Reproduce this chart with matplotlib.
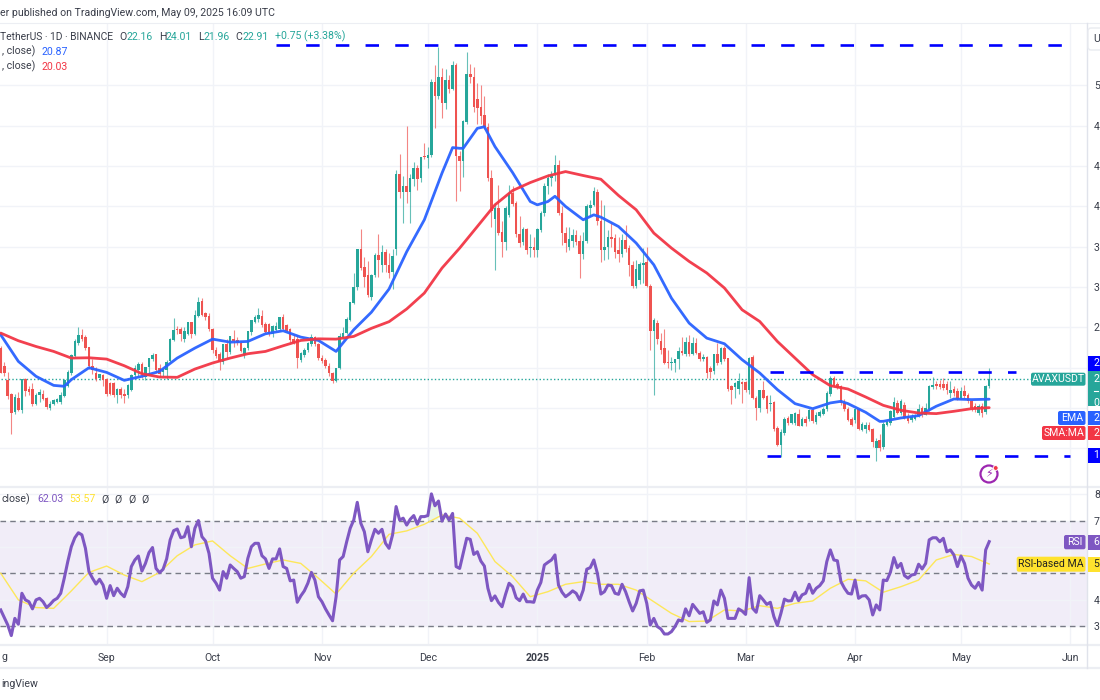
# -*- coding:utf-8 -*-
import matplotlib
matplotlib.use('Agg')
import matplotlib.pyplot as plt
from matplotlib.patches import Circle, FancyBboxPatch, Rectangle
import numpy as np

plt.rcParams['font.family'] = ['Roboto', 'DejaVu Sans']

# Daily candles, first one is Aug 2 2024, last one May 9 2025
opens = [25.9,24.2,22.8,21.4,19.6,21.0,19.8,22.9,21.9,21.9,
         20.4,21.3,21.4,21.0,20.0,20.4,20.6,20.6,21.2,22.2,
         23.5,25.2,26.4,27.2,27.0,26.0,24.2,23.5,23.0,23.3,
         22.9,22.5,22.5,21.3,21.9,21.4,21.3,21.8,23.3,23.8,
         24.4,23.1,24.1,24.9,25.4,24.0,23.6,23.8,24.7,26.7,
         27.8,27.8,26.8,27.3,28.5,27.3,29.1,30.6,29.4,29.1,
         27.8,25.8,25.4,24.6,26.3,25.6,26.8,26.7,26.4,25.3,
         25.9,27.5,28.5,28.8,29.1,28.35,28.3,27.3,27.7,27.8,
         29.0,28.2,27.8,26.8,26.8,24.8,25.3,25.8,26.3,27.0,
         26.3,25.0,24.8,24.2,23.5,22.7,24.0,26.9,27.4,28.7,
         30.4,32.0,35.8,34.0,33.2,31.0,33.2,35.2,34.2,35.5,
         34.2,33.5,35.8,43.2,41.4,42.0,41.4,42.7,43.8,42.8,
         45.0,44.8,45.1,52.3,50.9,52.8,50.3,52.5,51.6,54.0,
         45.0,44.5,48.4,53.1,52.8,50.7,49.9,49.1,47.9,42.8,
         38.7,39.8,37.5,36.5,39.1,41.3,40.3,37.3,36.5,37.8,
         35.9,36.0,35.7,37.7,39.3,42.0,42.8,43.1,44.1,39.3,
         37.4,36.0,36.6,37.2,36.6,35.3,36.6,39.8,40.1,41.4,
         38.5,35.7,36.0,37.0,36.85,35.7,35.3,36.7,35.9,34.2,
         32.1,32.7,34.2,34.5,32.1,27.6,28.4,26.6,25.9,24.6,
         24.45,24.5,24.85,25.7,25.4,26.5,25.4,26.45,25.5,24.85,
         25.1,23.95,23.7,25.35,24.6,25.95,24.95,22.15,22.1,21.9,
         22.55,22.55,21.8,25.1,21.0,20.0,21.75,21.2,20.35,20.55,
         18.0,16.3,17.55,19.0,18.5,18.5,19.45,18.25,18.9,18.9,
         19.75,18.6,19.2,19.45,19.85,21.4,23.0,22.4,22.15,20.5,
         19.85,18.9,18.8,19.9,17.85,17.9,18.35,17.9,16.05,16.8,
         16.1,18.35,18.5,19.1,20.5,19.5,20.3,19.2,18.8,18.9,
         19.2,20.0,19.35,19.85,22.1,22.4,22.4,22.4,22.4,21.5,
         21.9,21.65,21.0,21.65,21.3,20.65,20.15,19.5,20.15,19.6,22.16]
highs = [26.1,24.6,23.6,21.5,21.4,21.6,22.9,23.0,22.2,22.5,
         21.5,21.9,21.8,21.1,20.7,20.9,21.0,21.6,22.9,23.8,
         25.4,26.8,28.0,27.8,27.2,26.0,24.9,24.1,23.4,23.4,
         23.0,22.6,22.6,22.0,22.1,21.9,22.4,23.4,24.3,24.6,
         24.6,24.1,25.0,25.5,25.4,24.4,24.0,24.8,26.9,28.9,
         28.1,28.0,28.0,28.5,28.5,29.7,31.0,30.9,29.5,29.4,
         27.9,26.0,25.6,26.3,26.8,27.1,27.7,27.0,26.6,26.0,
         27.6,28.7,29.2,29.9,29.7,28.5,28.4,28.2,28.5,29.0,
         29.3,28.3,27.9,27.3,27.2,25.6,25.9,26.5,27.3,27.1,
         26.4,25.3,25.0,24.5,23.6,24.0,27.4,28.0,29.0,30.5,
         33.4,35.8,37.8,35.0,34.6,33.3,35.4,37.3,36.2,35.8,
         35.4,35.8,43.6,45.2,43.0,48.0,43.2,44.4,44.1,44.9,
         46.3,45.9,52.6,54.0,55.8,53.7,53.6,53.0,54.4,54.2,
         45.5,48.6,55.3,54.1,53.8,52.2,52.0,50.9,48.3,43.6,
         40.3,42.1,38.5,40.0,42.1,42.0,40.5,39.0,38.0,37.9,
         37.3,37.0,37.9,39.5,42.3,43.2,43.5,45.1,44.6,40.0,
         38.0,38.0,37.8,37.7,37.2,37.5,40.2,40.6,41.9,41.7,
         40.6,40.1,37.7,38.3,37.3,37.0,37.3,38.2,36.2,34.6,
         34.7,34.5,35.9,36.0,32.3,28.9,28.75,27.4,27.8,25.8,
         25.1,24.9,26.0,27.0,27.0,27.2,27.0,26.9,25.7,25.4,
         25.2,24.2,25.4,26.4,26.0,26.1,25.0,22.3,22.6,23.5,
         22.7,22.7,25.1,25.3,21.2,21.8,22.7,21.3,21.3,20.7,
         18.2,17.9,19.1,19.2,19.45,19.6,19.9,19.1,19.2,19.9,
         20.0,19.6,19.8,20.1,21.7,23.2,23.2,22.6,22.3,20.9,
         20.1,19.1,19.95,20.0,18.6,18.6,18.6,18.0,17.0,17.4,
         18.6,18.8,19.8,21.1,20.8,20.9,20.6,19.5,19.4,19.4,
         20.4,20.2,20.5,22.3,23.1,22.7,22.8,23.0,22.7,22.7,
         22.2,22.0,22.1,22.3,21.5,20.8,20.5,20.4,20.5,22.3,24.01]
lows = [23.5,23.2,20.9,17.4,19.4,19.7,19.5,21.2,21.3,20.2,
        20.3,20.6,20.8,19.9,19.8,20.3,20.5,20.4,21.1,22.1,
        23.3,25.1,26.2,26.6,25.8,23.9,23.4,22.7,22.8,22.2,
        21.2,21.3,21.1,20.5,21.0,20.5,21.0,21.7,23.1,23.2,
        23.0,22.8,23.5,24.7,23.5,23.1,23.2,22.9,24.6,26.6,
        27.3,26.6,26.5,27.2,26.9,27.2,29.0,29.1,28.7,27.6,
        25.5,25.0,23.8,24.4,25.0,25.4,26.0,26.2,25.6,25.0,
        25.8,27.2,28.4,28.5,28.0,27.4,27.1,27.0,27.6,27.6,
        27.7,27.5,26.5,26.3,24.0,24.6,25.1,25.6,26.1,26.1,
        24.8,24.5,24.0,23.2,22.5,22.6,23.9,26.8,27.3,28.6,
        30.3,31.7,33.7,32.0,31.0,30.7,33.0,33.0,33.5,33.5,
        32.9,31.8,35.2,40.8,38.3,40.3,38.3,42.0,41.6,42.4,
        44.7,43.8,44.9,47.8,50.7,48.8,49.7,51.2,51.5,40.5,
        41.5,42.9,48.2,52.2,49.4,48.2,48.2,47.7,42.5,38.0,
        33.7,37.2,35.0,35.7,38.9,40.0,37.0,36.0,36.2,35.3,
        35.0,35.0,35.0,37.5,39.0,41.2,42.0,42.5,39.1,36.2,
        35.5,35.7,36.0,36.2,32.9,34.8,36.4,39.0,40.0,38.2,
        34.5,34.7,34.8,36.0,34.9,34.5,35.0,35.5,33.1,31.9,
        31.9,32.3,32.4,32.0,25.8,21.3,26.3,25.4,24.4,24.0,
        23.8,23.6,23.9,25.3,25.2,25.2,25.3,25.4,24.7,24.7,
        23.0,23.0,23.4,24.3,24.4,24.7,21.7,20.4,21.0,21.4,
        20.5,21.6,21.4,20.9,18.85,19.6,20.9,19.5,19.7,17.7,
        16.2,15.1,17.3,18.3,18.4,18.3,18.2,18.2,18.2,18.7,
        18.5,18.4,19.1,19.3,19.7,21.2,22.1,21.9,20.3,19.7,
        18.7,18.2,18.5,17.8,17.7,17.5,17.7,16.1,14.7,15.7,
        15.9,18.2,18.3,19.0,19.4,19.3,18.9,18.5,18.6,18.8,
        19.1,19.1,19.3,19.7,21.9,21.9,21.9,21.8,21.4,21.0,
        21.2,20.8,20.9,21.0,20.5,19.7,19.6,19.3,19.1,19.4,21.96]
closes = [23.5,23.5,21.2,19.5,21.1,19.8,22.9,21.7,21.6,20.4,
          21.3,21.6,20.9,20.1,20.4,20.8,20.9,21.3,22.8,23.6,
          25.3,26.6,27.2,26.8,25.9,24.2,23.8,22.9,23.4,22.8,
          21.4,21.4,21.3,21.9,21.3,21.2,22.3,23.3,24.0,24.4,
          23.4,24.1,24.95,25.3,23.8,23.4,23.9,24.6,26.8,27.7,
          27.7,27.3,27.6,28.5,27.3,29.2,30.5,29.2,29.0,27.8,
          25.8,25.2,24.6,26.3,25.6,27.1,26.6,26.4,25.7,25.9,
          27.6,28.7,29.0,29.2,28.25,27.5,27.3,28.1,28.15,29.0,
          27.8,27.6,26.7,26.4,24.95,25.5,25.8,26.4,27.0,26.3,
          24.95,24.7,24.2,23.5,22.7,24.0,27.1,27.4,28.8,30.5,
          32.0,35.8,33.9,33.0,31.2,33.2,35.2,34.7,35.5,34.2,
          33.4,35.1,43.2,41.4,42.0,41.4,42.8,43.8,42.7,44.9,
          44.9,45.1,52.3,50.9,52.8,50.3,52.5,51.6,54.0,45.0,
          44.5,48.5,53.1,52.8,49.9,49.8,49.0,47.9,42.8,39.5,
          39.8,37.4,36.5,39.8,41.3,40.25,37.3,36.4,37.8,35.7,
          36.0,35.7,37.8,39.3,42.0,42.8,43.2,44.1,39.3,37.4,
          36.4,36.75,37.2,36.5,35.3,36.6,40.0,40.15,41.5,38.5,
          35.7,36.0,37.0,36.75,35.5,35.3,36.7,35.8,34.2,32.1,
          33.8,34.3,34.4,32.1,27.6,28.75,26.8,25.8,24.5,24.5,
          24.6,24.85,25.7,25.45,26.5,25.4,26.45,25.5,24.85,25.1,
          23.5,23.6,25.35,24.5,25.95,24.85,21.9,21.75,22.5,22.65,
          22.4,21.8,24.95,21.0,20.0,21.75,21.0,19.9,20.5,17.9,
          16.3,17.6,18.9,18.5,19.4,19.5,18.25,18.9,18.5,19.75,
          18.7,19.35,19.6,19.9,21.5,23.0,22.2,22.0,20.5,19.85,
          18.8,18.35,19.9,17.9,18.45,18.35,17.85,16.6,16.7,16.05,
          18.45,18.6,19.65,20.55,19.5,20.65,19.0,18.7,19.1,19.25,
          19.85,19.35,20.0,22.2,22.3,22.2,22.1,22.0,21.75,21.75,
          21.5,20.9,21.65,21.2,20.65,20.0,19.85,20.15,19.5,22.16,22.91]

# RSI(14), one value per candle
rsi = [36.2,33.3,30.5,26.5,33.0,30.8,42.5,40.0,39.3,36.6,
       40.0,40.6,39.3,37.1,38.3,39.8,40.6,42.5,48.2,54.5,
       60.1,63.5,65.4,64.6,59.5,50.7,48.2,46.0,47.8,45.6,
       40.6,45.4,41.6,44.4,42.5,41.2,45.0,52.6,55.1,56.6,
       50.9,53.8,57.9,59.8,51.9,50.3,51.6,55.5,62.7,66.2,
       66.8,63.5,63.9,67.7,60.1,67.1,70.0,63.9,62.3,57.6,
       48.2,46.3,43.7,50.7,48.2,53.2,51.9,50.7,48.2,48.8,
       55.7,60.1,61.4,61.4,56.7,55.5,51.9,55.5,55.5,59.3,
       52.6,51.9,47.2,47.5,39.1,41.5,43.4,46.3,50.4,47.5,
       41.2,39.3,36.6,34.3,32.1,41.2,55.1,56.4,62.0,67.1,
       70.2,76.9,69.0,65.8,58.2,62.7,66.7,65.2,66.7,61.4,
       59.5,64.6,75.3,70.2,70.9,68.3,70.5,71.9,68.6,71.5,
       71.5,71.9,80.1,75.6,77.4,69.8,72.5,70.2,72.7,52.6,
       51.9,57.6,63.3,62.9,57.2,58.2,54.7,52.8,44.4,39.7,
       41.5,39.0,37.4,42.1,46.3,45.0,40.8,39.7,42.2,39.3,
       39.3,39.1,43.7,46.6,53.2,54.2,55.1,57.0,45.6,42.9,
       41.2,42.2,43.4,42.5,40.0,43.7,51.6,52.2,55.1,50.1,
       42.2,43.1,45.6,45.4,42.5,42.1,45.9,43.1,39.3,35.8,
       38.7,43.4,43.7,38.7,30.5,33.0,29.9,29.0,27.1,27.1,
       28.0,29.9,32.4,32.0,36.6,34.0,38.3,36.6,34.9,35.5,
       31.5,32.4,39.6,38.1,43.7,40.6,33.0,33.0,33.0,36.6,
       35.8,34.5,48.4,36.8,35.3,41.6,40.0,38.3,39.1,33.7,
       30.3,34.9,40.3,39.6,39.7,42.9,39.7,41.9,42.5,45.9,
       42.5,44.4,45.4,47.2,54.5,58.9,55.1,54.8,46.9,44.4,
       42.5,42.2,47.5,40.6,41.5,41.6,40.0,34.3,38.1,36.2,
       47.5,47.3,50.4,56.0,52.2,53.8,49.2,48.2,49.4,49.7,
       53.5,51.7,53.8,62.7,63.5,63.5,62.0,63.3,58.2,58.9,
       57.0,52.6,56.6,53.8,48.2,45.6,44.4,46.6,43.7,58.9,62.03]

# The moving averages, read every 5th candle
ma_days = list(range(0, 281, 5))
rsi_ma = [50.1,40.0,37.1,36.8,43.4,50.4,52.8,49.4,46.9,50.4,
          56.7,60.8,62.3,56.7,51.9,53.6,55.1,53.8,48.2,42.2,
          50.1,56.4,64.8,66.1,68.6,72.1,70.9,65.2,54.5,48.8,
          41.2,43.1,45.9,46.9,45.9,45.9,43.7,39.3,34.9,31.8,
          32.0,36.2,35.8,37.8,36.8,38.7,39.6,44.4,47.8,47.2,
          42.9,45.0,47.5,55.1,57.2,56.4,53.57]
ema20 = [27.26,24.62,23.14,22.24,22.81,23.99,23.53,22.74,23.14,23.63,
         24.95,25.94,26.83,26.53,26.6,27.36,27.66,27.03,26.7,25.61,
         27.76,29.5,31.8,35.5,38.67,43.3,45.76,47.74,45.93,43.35,
         40.48,40.48,39.99,38.67,38.93,38.0,36.36,34.2,30.89,28.42,
         26.93,26.37,24.79,23.47,21.82,20.43,19.93,20.5,20.43,19.57,
         18.68,19.01,19.24,20.17,20.89,20.83,20.87]
sma50 = [27.43,26.67,26.1,25.61,24.95,24.98,24.85,24.19,23.4,23.07,
         23.04,23.86,24.46,24.95,25.38,25.61,26.17,26.7,26.86,26.83,
         27.1,27.9,28.56,29.82,31.4,33.88,35.86,38.0,40.15,41.57,
         42.36,43.02,43.45,43.06,42.69,41.08,39.66,37.35,35.86,34.54,
         33.39,31.9,29.74,28.58,26.6,24.95,23.3,22.21,21.88,21.09,
         20.26,19.77,19.5,19.44,19.67,19.93,20.03]
# turning points of the EMA that fall between the 5 day readings
ema_turn_days = [18, 128, 131, 137, 152, 157, 168, 238, 249]
ema_turns = [22.15, 45.83, 45.76, 47.9, 40.15, 41.0, 39.16, 20.66, 18.67]

# Months on the time axis, as candle numbers (Aug 2 is 0)
month_days = [30, 60, 91, 121, 152, 183, 211, 242, 272, 303]
month_labels = ['Sep', 'Oct', 'Nov', 'Dec', '2025', 'Feb', 'Mar', 'Apr', 'May', 'Jun']
price_ticks = [52, 48, 44, 40, 36, 32, 28, 24, 20, 16]
price_tick_labels = ['5', '4', '4', '4', '3', '3', '2', '', '', '']
rsi_ticks = [80, 70, 60, 50, 40, 30]
rsi_tick_labels = ['8', '7', '', '', '4', '3']
top_level = 56.0
mid_level = 23.54
low_level = 15.27

GREEN = '#26a69a'
RED = '#ef5350'
GRID = '#f1f3f8'
BORDER = '#e0e3eb'
TEXT = '#3a3e4a'
PURPLE = '#7e57c2'
YELLOW = '#ffe22e'
BLUE = '#2962ff'
SMA_RED = '#f23645'
LINE_BLUE = '#0000ff'

W, H = 1100, 700
AXIS_X = 1087
FS = 7.6


def px_rect(left, top, right, bottom):
    return [left / W, 1 - bottom / H, (right - left) / W, (bottom - top) / H]


fig = plt.figure(figsize=(W / 100, H / 100), dpi=100, facecolor='white')
ax = fig.add_axes(px_rect(0, 23, AXIS_X, 487))
ax2 = fig.add_axes(px_rect(0, 487, AXIS_X, 644.3))

days = np.arange(len(closes))
o = np.array(opens)
c = np.array(closes)
colors = [GREEN if c[i] >= o[i] else RED for i in days]

# main price pane
ax.vlines(days, lows, highs, colors=colors, linewidth=0.8, alpha=0.7, zorder=2)
ax.bar(days, np.abs(c - o), bottom=np.minimum(c, o), width=0.72, color=colors, linewidth=0, zorder=3)
ema_order = np.argsort(ma_days + ema_turn_days)
ax.plot(np.array(ma_days + ema_turn_days)[ema_order], np.array(ema20 + ema_turns)[ema_order],
        color=BLUE, linewidth=2.0, alpha=0.95, zorder=4, solid_capstyle='round')
ax.plot(ma_days, sma50, color=SMA_RED, linewidth=2.0, alpha=0.95, zorder=5, solid_capstyle='round')
ax.plot([0, 291.7], [closes[-1], closes[-1]], color=GREEN, linewidth=1.0, linestyle=(0, (1, 1.6)), zorder=1)

# hand drawn levels
dash = (0, (5.1, 6.15))
ax.plot([78, 303.5], [top_level, top_level], color=LINE_BLUE, linewidth=1.9, linestyle=dash, zorder=6)
ax.plot([217.9, 287.6], [mid_level, mid_level], color=LINE_BLUE, linewidth=1.9, linestyle=dash, zorder=6)
ax.plot([217.1, 302.9], [low_level, low_level], color=LINE_BLUE, linewidth=1.9, linestyle=dash, zorder=6)

ax.set_xlim(-0.2, 307.7)
ax.set_ylim(12.16, 58.19)
ax.yaxis.tick_right()
ax.set_yticks(price_ticks)
ax.set_yticklabels(price_tick_labels, fontsize=FS, color=TEXT)
ax.set_xticks(month_days)
ax.set_xticklabels([])
ax.tick_params(length=0, pad=5)
ax.grid(True, color=GRID, linewidth=1)
ax.set_axisbelow(True)
for s in ax.spines.values():
    s.set_visible(False)

# rsi pane
ax2.axhspan(30, 70, color=PURPLE, alpha=0.1, linewidth=0, zorder=0)
for lev in [70, 50, 30]:
    ax2.axhline(lev, color='#787b86', linewidth=1, linestyle=(0, (4, 3)), zorder=1)
rsi_arr = np.array(rsi)
ax2.fill_between(days, 70, rsi_arr, where=(rsi_arr > 70) & (days >= 121) & (days <= 127),
                 color='#4caf50', alpha=0.12, linewidth=0, zorder=2)
ax2.plot(ma_days, rsi_ma, color='#fde75a', linewidth=1, zorder=3)
ax2.plot(days, rsi, color=PURPLE, linewidth=2.2, zorder=4)
ax2.set_xlim(-0.2, 307.7)
ax2.set_ylim(23.2, 82.7)
ax2.yaxis.tick_right()
ax2.set_yticks(rsi_ticks)
ax2.set_yticklabels(rsi_tick_labels, fontsize=FS, color=TEXT)
ax2.set_xticks(month_days)
ax2.set_xticklabels(month_labels, fontsize=FS, color=TEXT)
for lab in ax2.get_xticklabels():
    if lab.get_text() == '2025':
        lab.set_fontweight('bold')
ax2.tick_params(axis='y', length=0, pad=5)
ax2.tick_params(axis='x', length=0, pad=6)
ax2.grid(True, color=GRID, linewidth=1)
ax2.set_axisbelow(True)
for s in ax2.spines.values():
    s.set_visible(False)

# everything else is placed in pixels on a full size overlay
ov = fig.add_axes([0, 0, 1, 1], facecolor='none', zorder=10)
ov.set_xlim(0, W)
ov.set_ylim(H, 0)
ov.axis('off')

ov.plot([0, W], [23, 23], color='#eceef3', linewidth=0.8)
ov.plot([0, W], [486.5, 486.5], color='#eceef3', linewidth=1.6)
ov.plot([0, W], [645, 645], color='#eceef3', linewidth=1.6)
ov.plot([0, W], [668, 668], color='#eceef3', linewidth=1.6)
ov.plot([AXIS_X, AXIS_X], [23, 668], color=BORDER, linewidth=1)


def label(x, y, s, color=TEXT, fs=FS, **kw):
    ov.text(x, y, s, color=color, fontsize=fs, va='center', ha=kw.pop('ha', 'left'), **kw)


label(0, 13.3, 'er published on TradingView.com, May 09, 2025 16:09 UTC')
label(0.5, 36.7, 'TetherUS · 1D · BINANCE', fs=7.4)
for x, s in [(119, 'O'), (158.7, 'H'), (197.7, 'L'), (235.7, 'C')]:
    label(x, 36.7, s)
for x, s in [(126.7, '22.16'), (165.7, '24.01'), (204, '21.96'), (242.5, '22.91'), (275, '+0.75 (+3.38%)')]:
    label(x, 36.7, s, color=GREEN)
label(35, 51.7, ', close)', ha='right')
label(41.7, 51.7, '20.87', color=BLUE)
label(35, 66.7, ', close)', ha='right')
label(41.7, 66.7, '20.03', color=SMA_RED)
label(30, 499.3, 'close)', ha='right')
label(37, 499.3, '62.03', color=PURPLE)
label(69, 499.3, '53.57', color=YELLOW)
for x in [105, 118, 131.7, 145]:
    label(x, 499.3, 'Ø', ha='center')
label(1, 656.7, 'g')
label(38, 684, 'ingView', ha='right')


def tag(left, top, right, bottom, color, s=None, tcolor='white', fs=FS):
    ov.add_patch(FancyBboxPatch((left + 1.5, top + 1.5), right - left - 3, bottom - top - 3,
                                boxstyle='round,pad=1.5,rounding_size=2', facecolor=color,
                                edgecolor='none', zorder=20))
    if s:
        ov.text((left + right) / 2, (top + bottom) / 2, s, color=tcolor, fontsize=fs,
                ha='center', va='center', zorder=21)


# price axis tags, the figure edge cuts them off on the right
ov.add_patch(Rectangle((1087.5, 356), 13, 14.5, facecolor=LINE_BLUE, edgecolor='none', zorder=20))
ov.add_patch(Rectangle((1087.5, 370.5), 13, 35.5, facecolor=GREEN, edgecolor='none', zorder=20))
ov.add_patch(Rectangle((1087.5, 411), 13, 14, facecolor=BLUE, edgecolor='none', zorder=20))
ov.add_patch(Rectangle((1087.5, 426), 13, 14, facecolor=SMA_RED, edgecolor='none', zorder=20))
ov.add_patch(Rectangle((1087.5, 448), 13, 15, facecolor=LINE_BLUE, edgecolor='none', zorder=20))
ov.add_patch(Rectangle((1087.5, 535), 13, 14.5, facecolor=PURPLE, edgecolor='none', zorder=20))
ov.add_patch(Rectangle((1087.5, 556.7), 13, 15, facecolor=YELLOW, edgecolor='none', zorder=20))
for y, s, col in [(363, '2', 'white'), (379, '2', 'white'), (403, '0', 'white'), (418, '2', 'white'),
                  (433, '2', 'white'), (455.5, '1', 'white'), (542, '6', 'white'), (564, '5', '#222222')]:
    ov.text(1093.5, y, s, color=col, fontsize=FS, ha='left', va='center', zorder=21)
ov.plot([1094, 1098], [391, 391], color='white', linewidth=0.8, zorder=21)

tag(1031, 372.7, 1085.5, 385.7, GREEN, 'AVAXUSDT')
tag(1058, 411, 1085.5, 425, BLUE, 'EMA')
tag(1042, 426, 1085.5, 440, SMA_RED, 'SMA:MA')
tag(1064, 535, 1085.5, 549.3, PURPLE, 'RSI')
tag(1016.7, 556.7, 1085.5, 571.7, YELLOW, 'RSI-based MA', tcolor='#222222')

# U button at the top of the axis
ov.add_patch(FancyBboxPatch((1090, 30), 14, 18, boxstyle='round,pad=2,rounding_size=3',
                            facecolor='white', edgecolor='#e9ebf0', linewidth=1, zorder=20))
ov.text(1093, 39, 'U', color=TEXT, fontsize=FS, ha='left', va='center', zorder=21)

# flash icon
ov.add_patch(Circle((989, 474), 8.5, facecolor='white', edgecolor='#9c27b0', linewidth=1.6, zorder=20))
ov.text(989, 474.5, '\u26a1', family='DejaVu Sans', color='#9c27b0', fontsize=8, ha='center', va='center', zorder=21)
ov.add_patch(Circle((995.7, 468), 2.4, facecolor='#f23645', edgecolor='white', linewidth=0.6, zorder=22))

fig.savefig('out.png', dpi=100, facecolor='white')
